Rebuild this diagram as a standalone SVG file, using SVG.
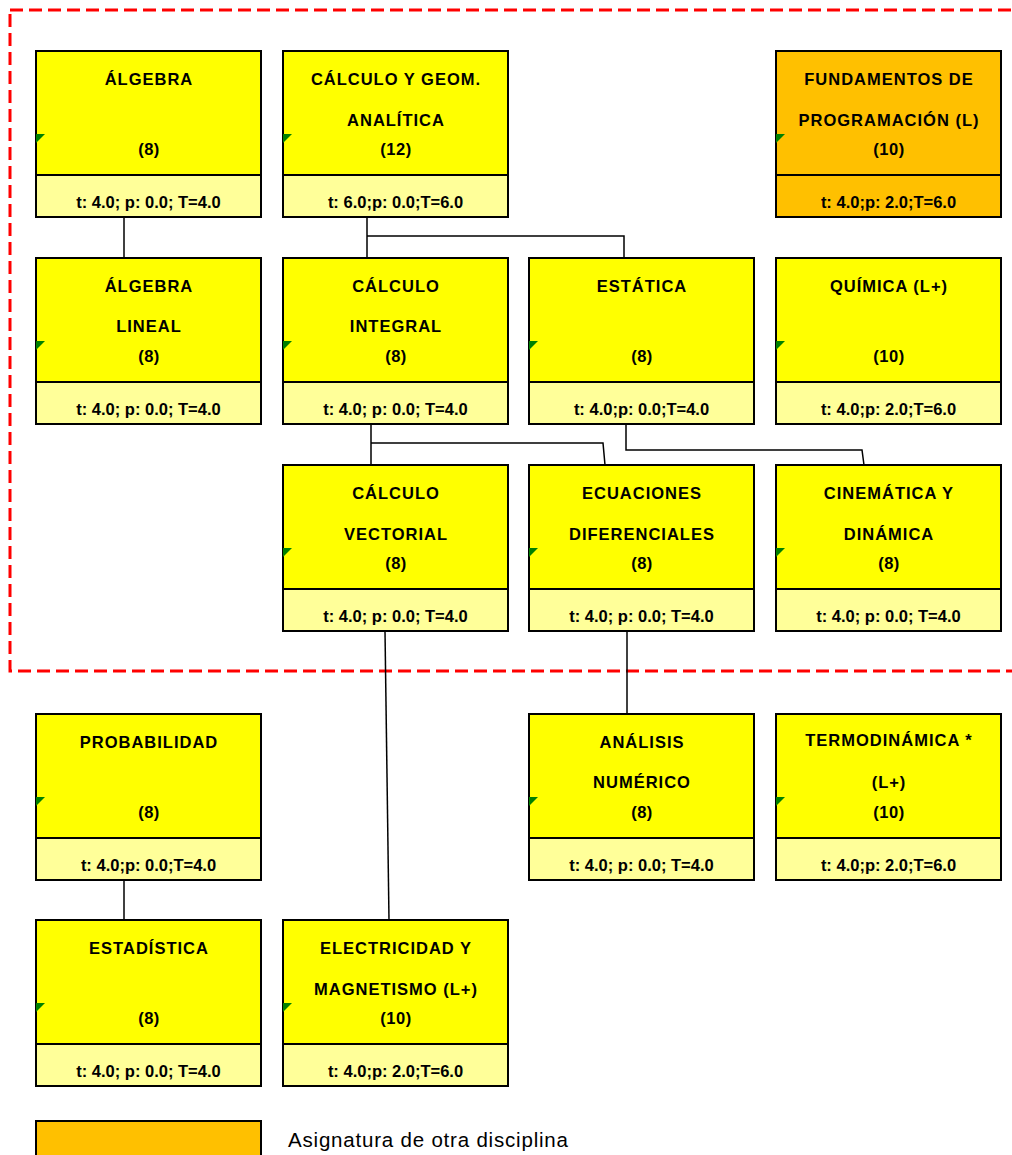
<svg xmlns="http://www.w3.org/2000/svg" width="1012" height="1155" viewBox="0 0 1012 1155">
<style>
.box{stroke:#000;stroke-width:2}
.y{fill:#FFFF00}
.yf{fill:#FFFF99}
.o{fill:#FFC000}
.t{font-family:"Liberation Sans",Arial,sans-serif;font-weight:bold;font-size:16.5px;fill:#000;text-anchor:middle}
.h{letter-spacing:1px}
.n{letter-spacing:0.5px}
.c{stroke:#000;stroke-width:1.5;fill:none}
.g{fill:#008000}
</style>
<defs>
<polygon id="tri" class="g" points="0,0 9,0 0,9"/>
</defs>
<rect x="10" y="10" width="1010" height="661" fill="none" stroke="#FF0000" stroke-width="3" stroke-dasharray="13,6"/>
<g id="connectors">
<path class="c" d="M124,217 V258"/>
<path class="c" d="M367,217 V258 M367,236 H624 V258"/>
<path class="c" d="M371,424 V465 M371,443 H603 L605,465"/>
<path class="c" d="M626,424 V450 H862 L864,465"/>
<path class="c" d="M385,631 L389,920"/>
<path class="c" d="M627,631 V714"/>
<path class="c" d="M124,880 V920"/>
</g>
<g id="n-algebra" transform="translate(36,51)">
<rect class="box y" width="225" height="124"/><rect class="box yf" y="124" width="225" height="42"/><use href="#tri" y="83"/>
<text class="t h" x="113" y="34">ÁLGEBRA</text><text class="t n" x="113" y="104">(8)</text><text class="t" x="112.5" y="157">t: 4.0; p: 0.0; T=4.0</text>
</g>
<g id="n-calculo-geom" transform="translate(283,51)">
<rect class="box y" width="225" height="124"/><rect class="box yf" y="124" width="225" height="42"/><use href="#tri" y="83"/>
<text class="t h" x="113" y="34">CÁLCULO Y GEOM.</text><text class="t h" x="113" y="75">ANALÍTICA</text><text class="t n" x="113" y="104">(12)</text><text class="t" x="112.5" y="157">t: 6.0;p: 0.0;T=6.0</text>
</g>
<g id="n-fundamentos" transform="translate(776,51)">
<rect class="box o" width="225" height="124"/><rect class="box o" y="124" width="225" height="42"/><use href="#tri" y="83"/>
<text class="t h" x="113" y="34">FUNDAMENTOS DE</text><text class="t h" x="113" y="75">PROGRAMACIÓN (L)</text><text class="t n" x="113" y="104">(10)</text><text class="t" x="112.5" y="157">t: 4.0;p: 2.0;T=6.0</text>
</g>
<g id="n-algebra-lineal" transform="translate(36,258)">
<rect class="box y" width="225" height="124"/><rect class="box yf" y="124" width="225" height="42"/><use href="#tri" y="83"/>
<text class="t h" x="113" y="34">ÁLGEBRA</text><text class="t h" x="113" y="74">LINEAL</text><text class="t n" x="113" y="104">(8)</text><text class="t" x="112.5" y="157">t: 4.0; p: 0.0; T=4.0</text>
</g>
<g id="n-calculo-integral" transform="translate(283,258)">
<rect class="box y" width="225" height="124"/><rect class="box yf" y="124" width="225" height="42"/><use href="#tri" y="83"/>
<text class="t h" x="113" y="34">CÁLCULO</text><text class="t h" x="113" y="74">INTEGRAL</text><text class="t n" x="113" y="104">(8)</text><text class="t" x="112.5" y="157">t: 4.0; p: 0.0; T=4.0</text>
</g>
<g id="n-estatica" transform="translate(529,258)">
<rect class="box y" width="225" height="124"/><rect class="box yf" y="124" width="225" height="42"/><use href="#tri" y="83"/>
<text class="t h" x="113" y="34">ESTÁTICA</text><text class="t n" x="113" y="104">(8)</text><text class="t" x="112.5" y="157">t: 4.0;p: 0.0;T=4.0</text>
</g>
<g id="n-quimica" transform="translate(776,258)">
<rect class="box y" width="225" height="124"/><rect class="box yf" y="124" width="225" height="42"/><use href="#tri" y="83"/>
<text class="t h" x="113" y="34">QUÍMICA (L+)</text><text class="t n" x="113" y="104">(10)</text><text class="t" x="112.5" y="157">t: 4.0;p: 2.0;T=6.0</text>
</g>
<g id="n-calculo-vectorial" transform="translate(283,465)">
<rect class="box y" width="225" height="124"/><rect class="box yf" y="124" width="225" height="42"/><use href="#tri" y="83"/>
<text class="t h" x="113" y="34">CÁLCULO</text><text class="t h" x="113" y="75">VECTORIAL</text><text class="t n" x="113" y="104">(8)</text><text class="t" x="112.5" y="157">t: 4.0; p: 0.0; T=4.0</text>
</g>
<g id="n-ecuaciones" transform="translate(529,465)">
<rect class="box y" width="225" height="124"/><rect class="box yf" y="124" width="225" height="42"/><use href="#tri" y="83"/>
<text class="t h" x="113" y="34">ECUACIONES</text><text class="t h" x="113" y="75">DIFERENCIALES</text><text class="t n" x="113" y="104">(8)</text><text class="t" x="112.5" y="157">t: 4.0; p: 0.0; T=4.0</text>
</g>
<g id="n-cinematica" transform="translate(776,465)">
<rect class="box y" width="225" height="124"/><rect class="box yf" y="124" width="225" height="42"/><use href="#tri" y="83"/>
<text class="t h" x="113" y="34">CINEMÁTICA Y</text><text class="t h" x="113" y="75">DINÁMICA</text><text class="t n" x="113" y="104">(8)</text><text class="t" x="112.5" y="157">t: 4.0; p: 0.0; T=4.0</text>
</g>
<g id="n-probabilidad" transform="translate(36,714)">
<rect class="box y" width="225" height="124"/><rect class="box yf" y="124" width="225" height="42"/><use href="#tri" y="83"/>
<text class="t h" x="113" y="34">PROBABILIDAD</text><text class="t n" x="113" y="104">(8)</text><text class="t" x="112.5" y="157">t: 4.0;p: 0.0;T=4.0</text>
</g>
<g id="n-analisis" transform="translate(529,714)">
<rect class="box y" width="225" height="124"/><rect class="box yf" y="124" width="225" height="42"/><use href="#tri" y="83"/>
<text class="t h" x="113" y="34">ANÁLISIS</text><text class="t h" x="113" y="74">NUMÉRICO</text><text class="t n" x="113" y="104">(8)</text><text class="t" x="112.5" y="157">t: 4.0; p: 0.0; T=4.0</text>
</g>
<g id="n-termodinamica" transform="translate(776,714)">
<rect class="box y" width="225" height="124"/><rect class="box yf" y="124" width="225" height="42"/><use href="#tri" y="83"/>
<text class="t h" x="113" y="32">TERMODINÁMICA *</text><text class="t h" x="113" y="74">(L+)</text><text class="t n" x="113" y="104">(10)</text><text class="t" x="112.5" y="157">t: 4.0;p: 2.0;T=6.0</text>
</g>
<g id="n-estadistica" transform="translate(36,920)">
<rect class="box y" width="225" height="124"/><rect class="box yf" y="124" width="225" height="42"/><use href="#tri" y="83"/>
<text class="t h" x="113" y="34">ESTADÍSTICA</text><text class="t n" x="113" y="104">(8)</text><text class="t" x="112.5" y="157">t: 4.0; p: 0.0; T=4.0</text>
</g>
<g id="n-electricidad" transform="translate(283,920)">
<rect class="box y" width="225" height="124"/><rect class="box yf" y="124" width="225" height="42"/><use href="#tri" y="83"/>
<text class="t h" x="113" y="34">ELECTRICIDAD Y</text><text class="t h" x="113" y="75">MAGNETISMO (L+)</text><text class="t n" x="113" y="104">(10)</text><text class="t" x="112.5" y="157">t: 4.0;p: 2.0;T=6.0</text>
</g>
<g id="legend">
<rect class="box o" x="36" y="1121" width="225" height="45"/>
<text x="288" y="1147" font-family="'Liberation Sans',Arial,sans-serif" font-size="20.5" letter-spacing="0.8" fill="#000">Asignatura de otra disciplina</text>
</g>
</svg>
